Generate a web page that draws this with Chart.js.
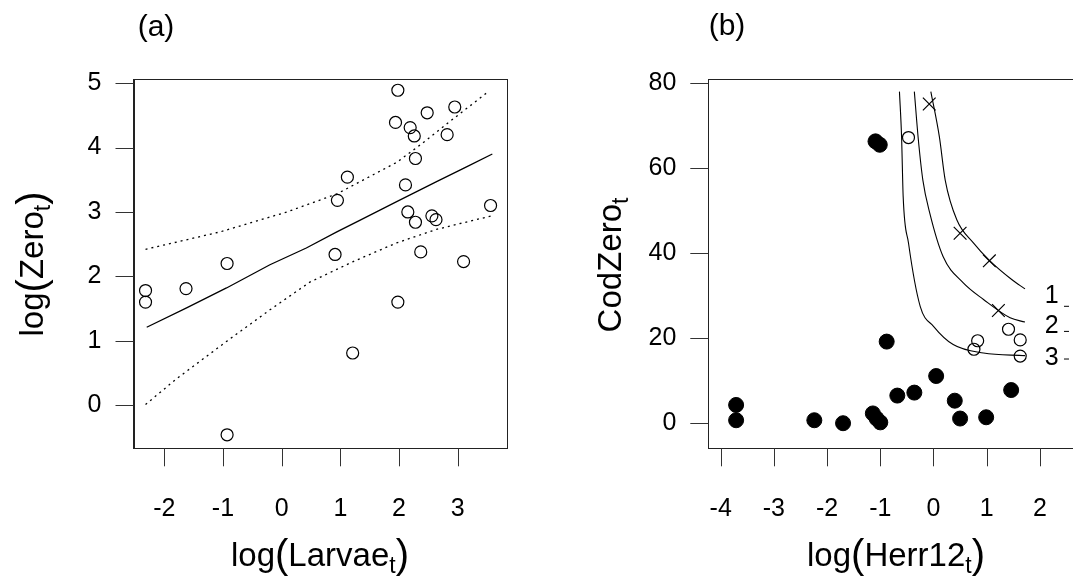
<!DOCTYPE html>
<html>
<head>
<meta charset="utf-8">
<script src="https://cdn.jsdelivr.net/npm/chart.js@4"></script>
<style>
  html, body { margin: 0; padding: 0; background: #fff; overflow: hidden; }
  #wrap { position: relative; width: 1073px; height: 586px; overflow: hidden; }
  #chartA { position: absolute; left: 0; top: 0; }
  #chartB { position: absolute; left: 536px; top: 0; }
</style>
</head>
<body>
<div id="wrap">
  <canvas id="chartA" width="536" height="586"></canvas>
  <canvas id="chartB" width="600" height="586"></canvas>
</div>
<script>
// panel (a): log(Larvae) vs log(Zero)
const larvaeX = [-2.32, -2.32, -1.63, -0.93, -0.93, 0.91, 0.95, 1.12, 1.21, 1.98, 1.94, 1.98, 2.11,
  2.15, 2.19, 2.26, 2.28, 2.28, 2.37, 2.48, 2.56, 2.63, 2.82, 2.95, 3.10, 3.56];
const zeroY = [1.78, 1.60, 1.81, 2.20, -0.46, 2.34, 3.18, 3.54, 0.81, 4.89, 4.39, 1.60, 3.42,
  3.00, 4.31, 4.18, 3.83, 2.84, 2.38, 4.54, 2.94, 2.88, 4.20, 4.63, 2.23, 3.10];
const fitX = [-2.30, -1.62, -0.94, -0.20, 0.42, 0.94, 1.33, 1.96, 2.64, 3.15, 3.59];
const fitY = [1.21, 1.51, 1.82, 2.18, 2.44, 2.69, 2.87, 3.16, 3.47, 3.70, 3.90];
const upperX = [-2.32, -1.05, 0.09, 0.94, 1.96, 2.36, 2.93, 3.51];
const upperY = [2.42, 2.69, 3.00, 3.28, 3.77, 4.04, 4.45, 4.86];
const lowerX = [-2.32, -1.79, -0.94, -0.20, 0.48, 1.22, 1.96, 2.64, 3.58];
const lowerY = [0.01, 0.41, 0.99, 1.48, 1.91, 2.23, 2.52, 2.73, 2.94];
const xTicksA = [-2, -1, 0, 1, 2, 3];
const yTicksA = [0, 1, 2, 3, 4, 5];

// panel (b): log(Herr12) vs CodZero
const filledX = [-3.71, -3.71, -2.24, -1.70, -1.14, -1.07, -1.00, -1.09, -1.01, -0.88, -0.68, -0.36, 0.05, 0.40, 0.50, 0.99, 1.46];
const filledY = [4.2, 0.6, 0.6, -0.1, 2.2, 1.0, 0.1, 66.2, 65.4, 19.1, 6.4, 7.1, 11.0, 5.2, 1.0, 1.3, 7.7];
const openX = [-0.47, 0.83, 0.76, 1.41, 1.63, 1.63];
const openY = [67.1, 19.3, 17.3, 22.0, 19.5, 15.7];
const crossX = [-0.08, 0.50, 1.05, 1.22];
const crossY = [75.0, 44.6, 38.1, 26.4];
const curve1X = [-0.05, 0.11, 0.22, 0.44, 0.75, 1.05, 1.47, 1.72];
const curve1Y = [77.9, 67.3, 57.1, 47.7, 42.3, 38.2, 33.7, 31.5];
const curve2X = [-0.36, -0.29, -0.20, -0.07, 0.18, 0.56, 0.94, 1.44, 1.72];
const curve2Y = [77.9, 67.3, 57.1, 49.3, 39.1, 32.9, 29.0, 24.7, 23.7];
const curve3X = [-0.64, -0.60, -0.57, -0.47, -0.25, 0.00, 0.37, 0.94, 1.72];
const curve3Y = [77.9, 67.3, 53.2, 42.3, 27.4, 22.7, 18.4, 16.4, 15.8];
const curveLabels = ["1", "2", "3"];
const curveLabelX = [2.22, 2.22, 2.22];
const curveLabelY = [29.7, 22.7, 15.3];
const dashX = [2.50, 2.50, 2.50];
const dashY = [27.4, 21.5, 15.0];
const xTicksB = [-4, -3, -2, -1, 0, 1, 2];
const yTicksB = [0, 20, 40, 60, 80];

const FONT = "'Liberation Sans', Arial, sans-serif";
const TICK_LEN = 18;

function pts(xs, ys) {
  return xs.map((x, i) => ({ x: x, y: ys[i] }));
}

// draws text pieces (with subscripts) centred on cx, cy
function drawMath(ctx, parts, cx, cy, angle, size) {
  ctx.save();
  ctx.translate(cx, cy);
  ctx.rotate(angle);
  ctx.textBaseline = "middle";
  ctx.textAlign = "left";
  ctx.fillStyle = "#000";
  let w = 0;
  parts.forEach(p => {
    ctx.font = Math.round(size * (p.s || 1)) + "px " + FONT;
    p.w = ctx.measureText(p.t).width;
    w += p.w;
  });
  let x = -w / 2;
  parts.forEach(p => {
    ctx.font = Math.round(size * (p.s || 1)) + "px " + FONT;
    ctx.fillText(p.t, x, (p.dy || 0) * size);
    x += p.w;
  });
  ctx.restore();
}

function axisCfg(min, max, ticks, fit, isX) {
  return {
    type: "linear",
    min: min,
    max: max,
    afterBuildTicks: s => { s.ticks = ticks.map(v => ({ value: v })); },
    afterFit: s => { if (isX) s.height = fit; else s.width = fit; },
    grid: { display: false, drawTicks: false },
    border: { display: true, color: "#222", width: 1 },
    ticks: {
      color: "#000",
      font: { size: 25, family: FONT },
      padding: isX ? 46 : 32,
      maxRotation: 0,
      autoSkip: false,
      callback: v => String(v)
    }
  };
}

// box round the plot region plus outward tick marks (R style)
const boxPlugin = {
  id: "box",
  afterDraw(chart) {
    const a = chart.chartArea, ctx = chart.ctx;
    const sx = chart.scales.x, sy = chart.scales.y;
    ctx.save();
    ctx.strokeStyle = "#222";
    ctx.lineWidth = 1;
    ctx.strokeRect(Math.round(a.left) + 0.5, Math.round(a.top) + 0.5,
      Math.round(a.right - a.left), Math.round(a.bottom - a.top));
    ctx.strokeStyle = "#333";
    ctx.beginPath();
    sx.ticks.forEach(t => {
      const px = Math.round(sx.getPixelForValue(t.value)) + 0.5;
      ctx.moveTo(px, a.bottom);
      ctx.lineTo(px, a.bottom + TICK_LEN);
    });
    sy.ticks.forEach(t => {
      const py = Math.round(sy.getPixelForValue(t.value)) + 0.5;
      ctx.moveTo(a.left, py);
      ctx.lineTo(a.left - TICK_LEN, py);
    });
    ctx.stroke();
    ctx.restore();
  }
};

// ---- panel (a)
new Chart(document.getElementById("chartA"), {
  type: "scatter",
  data: {
    datasets: [
      { data: pts(larvaeX, zeroY), pointStyle: "circle", pointRadius: 6, borderColor: "#000", borderWidth: 1.2, backgroundColor: "rgba(0,0,0,0)" },
      { data: pts(fitX, fitY), showLine: true, pointRadius: 0, borderColor: "#000", borderWidth: 1.3 },
      { data: pts(upperX, upperY), showLine: true, pointRadius: 0, borderColor: "#000", borderWidth: 1.3, borderDash: [2, 4] },
      { data: pts(lowerX, lowerY), showLine: true, pointRadius: 0, borderColor: "#000", borderWidth: 1.3, borderDash: [2, 4] }
    ]
  },
  options: {
    responsive: false,
    animation: false,
    layout: { padding: { top: 79.3, right: 29.3, left: 0, bottom: 0 } },
    plugins: { legend: { display: false }, tooltip: { enabled: false } },
    scales: {
      x: axisCfg(-2.525, 3.835, xTicksA, 137.7, true),
      y: axisCfg(-0.67, 5.06, yTicksA, 133.5, false)
    }
  },
  plugins: [boxPlugin, {
    id: "textA",
    afterDraw(chart) {
      const ctx = chart.ctx;
      drawMath(ctx, [{ t: "(a)" }], 156, 28, 0, 30);
      drawMath(ctx, [{ t: "log" }, { t: "(", s: 1.2 }, { t: "Larvae" }, { t: "t", s: 0.7, dy: 0.3 }, { t: ")", s: 1.2 }], 320, 557, 0, 33);
      drawMath(ctx, [{ t: "log" }, { t: "(", s: 1.2 }, { t: "Zero" }, { t: "t", s: 0.7, dy: 0.3 }, { t: ")", s: 1.2 }], 34, 264, -Math.PI / 2, 33);
    }
  }]
});

// ---- panel (b)
new Chart(document.getElementById("chartB"), {
  type: "scatter",
  data: {
    datasets: [
      { data: pts(curve1X, curve1Y), showLine: true, pointRadius: 0, borderColor: "#000", borderWidth: 1.1, cubicInterpolationMode: "monotone" },
      { data: pts(curve2X, curve2Y), showLine: true, pointRadius: 0, borderColor: "#000", borderWidth: 1.1, cubicInterpolationMode: "monotone" },
      { data: pts(curve3X, curve3Y), showLine: true, pointRadius: 0, borderColor: "#000", borderWidth: 1.1, cubicInterpolationMode: "monotone" },
      { data: pts(filledX, filledY), pointStyle: "circle", pointRadius: 7.5, borderColor: "#000", borderWidth: 1, backgroundColor: "#000" },
      { data: pts(openX, openY), pointStyle: "circle", pointRadius: 6, borderColor: "#000", borderWidth: 1.2, backgroundColor: "rgba(0,0,0,0)" },
      { data: pts(crossX, crossY), pointStyle: "crossRot", pointRadius: 9, borderColor: "#000", borderWidth: 1.2 },
      { data: pts(dashX, dashY), pointStyle: "line", pointRadius: 2.5, borderColor: "#000", borderWidth: 1 }
    ]
  },
  options: {
    responsive: false,
    animation: false,
    layout: { padding: { top: 79.3, right: 54.5, left: 0, bottom: 0 } },
    plugins: { legend: { display: false }, tooltip: { enabled: false } },
    scales: {
      x: axisCfg(-4.233, 2.782, xTicksB, 137.7, true),
      y: axisCfg(-6.0, 80.8, yTicksB, 172.3, false)
    }
  },
  plugins: [boxPlugin, {
    id: "textB",
    afterDraw(chart) {
      const ctx = chart.ctx, sx = chart.scales.x, sy = chart.scales.y;
      drawMath(ctx, [{ t: "(b)" }], 191, 27, 0, 30);
      drawMath(ctx, [{ t: "log" }, { t: "(", s: 1.2 }, { t: "Herr12" }, { t: "t", s: 0.7, dy: 0.3 }, { t: ")", s: 1.2 }], 360, 557, 0, 33);
      drawMath(ctx, [{ t: "CodZero" }, { t: "t", s: 0.7, dy: 0.3 }], 76, 265, -Math.PI / 2, 33);
      curveLabels.forEach((lab, i) => {
        drawMath(ctx, [{ t: lab }], sx.getPixelForValue(curveLabelX[i]), sy.getPixelForValue(curveLabelY[i]), 0, 25);
      });
    }
  }]
});
</script>
</body>
</html>
